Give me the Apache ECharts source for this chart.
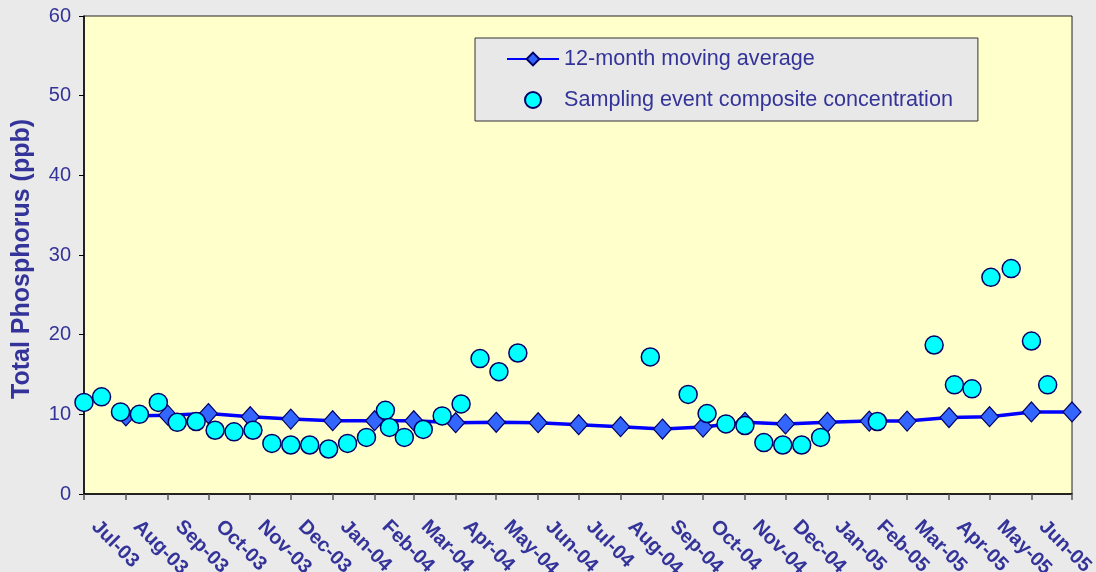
<!DOCTYPE html>
<html>
<head>
<meta charset="utf-8">
<script src="https://cdn.jsdelivr.net/npm/echarts@6/dist/echarts.min.js"></script>
<style>
html,body{margin:0;padding:0;background:#EAEAEA;}
#chart{width:1096px;height:572px;}
</style>
</head>
<body>
<div id="chart"></div>
<script>
// Tick labels (month starts)
var xTickLabels = ['Jul-03','Aug-03','Sep-03','Oct-03','Nov-03','Dec-03','Jan-04','Feb-04','Mar-04','Apr-04','May-04','Jun-04',
                   'Jul-04','Aug-04','Sep-04','Oct-04','Nov-04','Dec-04','Jan-05','Feb-05','Mar-05','Apr-05','May-05','Jun-05'];
var xAxisEnd = '2005-07-01';
var yTicks = [0, 10, 20, 30, 40, 50, 60];

// 12-month moving average
var maDates = ['2003-08-01','2003-09-01','2003-10-01','2003-11-01','2003-12-01','2004-01-01','2004-02-01','2004-03-01',
               '2004-04-01','2004-05-01','2004-06-01','2004-07-01','2004-08-01','2004-09-01','2004-10-01','2004-11-01',
               '2004-12-01','2005-01-01','2005-02-01','2005-03-01','2005-04-01','2005-05-01','2005-06-01','2005-07-01'];
var maValues = [9.8, 9.9, 10.1, 9.7, 9.4, 9.2, 9.2, 9.2, 8.95, 9.0, 8.95, 8.7, 8.45, 8.15, 8.4, 9.0,
                8.8, 9.0, 9.15, 9.15, 9.6, 9.7, 10.3, 10.3];

// Sampling event composite concentration
var sampleDates = ['2003-07-01','2003-07-14','2003-07-28','2003-08-11','2003-08-25','2003-09-08','2003-09-22','2003-10-06',
                   '2003-10-20','2003-11-03','2003-11-17','2003-12-01','2003-12-15','2003-12-29','2004-01-12','2004-01-26',
                   '2004-02-09','2004-02-12','2004-02-23','2004-03-08','2004-03-22','2004-04-05','2004-04-19','2004-05-03',
                   '2004-05-17','2004-08-23','2004-09-20','2004-10-04','2004-10-18','2004-11-01','2004-11-15','2004-11-29',
                   '2004-12-13','2004-12-27','2005-02-07','2005-03-21','2005-04-05','2005-04-18','2005-05-02','2005-05-17',
                   '2005-06-01','2005-06-13'];
var sampleValues = [11.5, 12.2, 10.3, 10.0, 11.5, 9.0, 9.1, 8.0,
                    7.8, 8.0, 6.35, 6.15, 6.15, 5.65, 6.35, 7.1,
                    10.5, 8.35, 7.1, 8.1, 9.8, 11.3, 17.0, 15.35,
                    17.7, 17.2, 12.5, 10.1, 8.8, 8.6, 6.45, 6.15,
                    6.15, 7.1, 9.1, 18.7, 13.7, 13.2, 27.2, 28.3,
                    19.2, 13.7];

// day number since 2003-07-01 (UTC based, so no DST effects)
var T0 = Date.UTC(2003, 6, 1);
function dayNum(s){ var p = s.split('-'); return Math.round((Date.UTC(+p[0], +p[1]-1, +p[2]) - T0) / 86400000); }
var MONTHS = {Jan:0,Feb:1,Mar:2,Apr:3,May:4,Jun:5,Jul:6,Aug:7,Sep:8,Oct:9,Nov:10,Dec:11};
function labelDay(l){ var p = l.split('-'); return Math.round((Date.UTC(2000 + (+p[1]), MONTHS[p[0]], 1) - T0) / 86400000); }

var labelDays = xTickLabels.map(labelDay);
var tickDays = labelDays.concat([dayNum(xAxisEnd)]);

var chart = echarts.init(document.getElementById('chart'), null, {renderer:'canvas'});
var TXT = '#333399';
var FONT = 'Liberation Sans, Arial, sans-serif';

chart.setOption({
  backgroundColor: '#EAEAEA',
  animation: false,
  textStyle: {fontFamily: FONT},
  grid: {left: 84, top: 16, right: 24, bottom: 78, containLabel: false, outerBoundsMode: 'none',
         show: true, backgroundColor: '#FFFFCC', borderColor: '#222', borderWidth: 1},
  legend: {
    orient: 'vertical', left: 475, top: 38,
    padding: [10, 25, 10, 31],
    itemWidth: 52, itemHeight: 16, itemGap: 19,
    backgroundColor: '#E8E8E8', borderColor: '#333', borderWidth: 1,
    textStyle: {fontSize: 21.6, color: TXT, fontFamily: FONT, lineHeight: 22},
    data: ['12-month moving average', 'Sampling event composite concentration']
  },
  xAxis: {
    type: 'value',
    min: tickDays[0], max: tickDays[tickDays.length-1],
    splitLine: {show: false},
    axisLine: {lineStyle: {color: '#000', width: 1.5}},
    axisTick: {show: true, length: 6, inside: false, customValues: tickDays, lineStyle: {color: '#555', width: 1.5}},
    axisLabel: {
      customValues: labelDays,
      rotate: -45, margin: 19, padding: [0, 0, 0, 15],
      color: TXT, fontSize: 20, fontWeight: 'bold', fontFamily: FONT,
      formatter: function(v){ var i = labelDays.indexOf(Math.round(v)); return i >= 0 ? xTickLabels[i] : ''; }
    }
  },
  yAxis: {
    type: 'value', min: yTicks[0], max: yTicks[yTicks.length-1], interval: 10,
    name: 'Total Phosphorus (ppb)', nameLocation: 'middle', nameGap: 49, nameMoveOverlap: false,
    nameTextStyle: {color: TXT, fontSize: 25, fontWeight: 'bold', fontFamily: FONT, padding: [0, 8, 0, 0]},
    splitLine: {show: false},
    axisLine: {show: true, lineStyle: {color: '#000', width: 1.5}},
    axisTick: {show: true, length: 5, inside: false, lineStyle: {color: '#000'}},
    axisLabel: {color: TXT, fontSize: 20, margin: 13, fontFamily: FONT}
  },
  series: [
    {
      name: '12-month moving average', type: 'line',
      data: maDates.map(function(d, i){ return [dayNum(d), maValues[i]]; }),
      symbol: 'diamond', symbolSize: [18, 20],
      lineStyle: {color: '#0000FF', width: 3.5},
      itemStyle: {color: '#3366FF', borderColor: '#000066', borderWidth: 1.2},
      z: 2
    },
    {
      name: 'Sampling event composite concentration', type: 'scatter',
      data: sampleDates.map(function(d, i){ return [dayNum(d), sampleValues[i]]; }),
      symbol: 'circle', symbolSize: 18,
      itemStyle: {color: '#00FFFF', borderColor: '#000066', borderWidth: 1.5, opacity: 1},
      z: 3
    }
  ]
});
</script>
</body>
</html>
